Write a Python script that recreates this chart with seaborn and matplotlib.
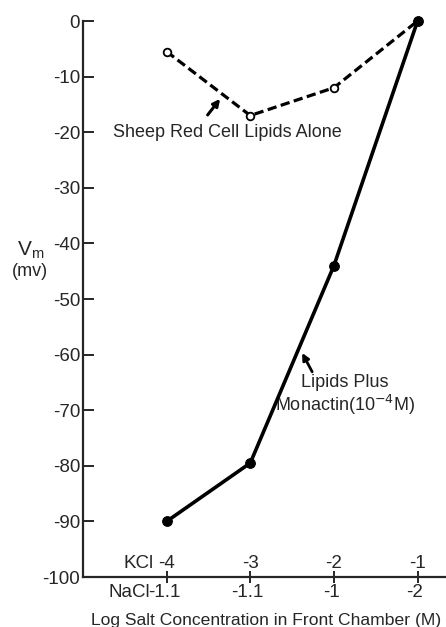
import matplotlib
matplotlib.use("Agg")
import matplotlib.pyplot as plt
import seaborn as sns
import pandas as pd

# ---- data ----
x_pos = [0, 1, 2, 3]
kcl_labels = ["-4", "-3", "-2", "-1"]
nacl_labels = ["-1.1", "-1.1", "-1", "-2"]
lipids_alone = [-5.5, -17, -12, 0]
lipids_monactin = [-90, -79.5, -44, 0]
y_ticks = [0, -10, -20, -30, -40, -50, -60, -70, -80, -90, -100]

sns.set_style("ticks")
plt.rcParams["font.family"] = ["Liberation Sans", "DejaVu Sans"]

FS = 13
W, H = 446, 627
fig = plt.figure(figsize=(W / 100, H / 100), dpi=100)
ax = fig.add_axes([83 / W, 50 / H, (W - 83) / W, (577 - 21) / H])

df_a = pd.DataFrame({"x": x_pos, "y": lipids_alone})
df_m = pd.DataFrame({"x": x_pos, "y": lipids_monactin})

sns.lineplot(data=df_a, x="x", y="y", ax=ax, color="black", linewidth=2.3,
             linestyle=(0, (2.9, 1.4)), marker="o", markersize=5.5,
             markerfacecolor="white", markeredgecolor="black",
             markeredgewidth=1.3, clip_on=False, zorder=3)
sns.lineplot(data=df_m, x="x", y="y", ax=ax, color="black", linewidth=2.6,
             marker="o", markersize=7, markerfacecolor="black",
             markeredgecolor="black", clip_on=False, zorder=4)

ax.set_xlim(-1.0, 3.34)
ax.set_ylim(-100, 0)
ax.set_yticks(y_ticks)
ax.set_yticklabels([str(v) for v in y_ticks], fontsize=13.5)
ax.tick_params(axis="y", direction="in", length=8, width=1.4, pad=2)
ax.set_xticks(x_pos)
ax.set_xticklabels([])
ax.tick_params(axis="x", direction="inout", length=9, width=1.4)
for s in ["top", "right"]:
    ax.spines[s].set_visible(False)
for s in ["left", "bottom"]:
    ax.spines[s].set_linewidth(1.6)
ax.set_xlabel("")
ax.set_ylabel("")

# tick labels above and below the axis
for xp, kl, nl in zip(x_pos, kcl_labels, nacl_labels):
    ax.text(xp, -97.5, kl, ha="center", va="center", fontsize=13.5)
    ax.text(xp - 0.03, -102.8, nl, ha="center", va="center", fontsize=13.5, clip_on=False)
ax.text(x_pos[0] - 0.16, -97.5, "KCl", ha="right", va="center", fontsize=13.5)
ax.text(x_pos[0] - 0.2, -102.8, "NaCl", ha="right", va="center", fontsize=13.5)

fig.text(266 / W, 1 - 620 / H, "Log Salt Concentration in Front Chamber (M)",
         ha="center", va="center", fontsize=12.6)
fig.text(31 / W, 1 - 250 / H, r"V$_\mathregular{m}$", ha="center", va="center", fontsize=15)
fig.text(30 / W, 1 - 271 / H, "(mv)", ha="center", va="center", fontsize=FS)

# annotations
ax.annotate("", xy=(0.64, -14.0), xytext=(0.49, -16.9),
            arrowprops=dict(arrowstyle="-|>", color="black", lw=2.2, mutation_scale=10,
                            shrinkA=0, shrinkB=0))
ax.text(-0.64, -20.1, "Sheep Red Cell Lipids Alone", ha="left", va="center", fontsize=FS)

ax.annotate("", xy=(1.62, -59.7), xytext=(1.74, -63.1),
            arrowprops=dict(arrowstyle="-|>", color="black", lw=2.0, mutation_scale=10,
                            shrinkA=0, shrinkB=0))
ax.text(2.13, -67.4, "Lipids Plus\n" + r"Monactin(10$^{-4}$M)", ha="center", va="center",
        fontsize=FS, multialignment="center", linespacing=1.1)

fig.savefig("out.png", dpi=100)
